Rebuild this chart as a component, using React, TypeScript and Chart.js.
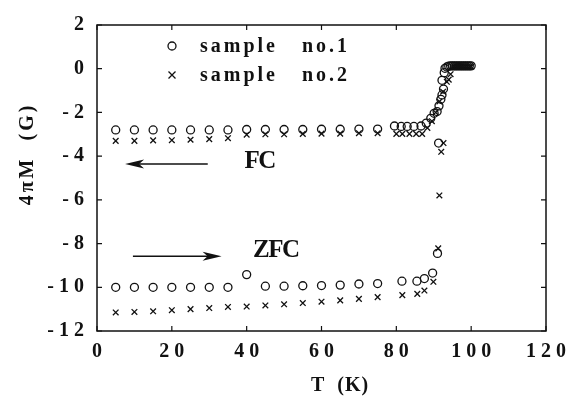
import React, { useEffect, useRef } from 'react';
import { Chart, registerables } from 'chart.js';

Chart.register(...registerables);

// ---- text ----
const seriesNames = ['sample   no.1', 'sample   no.2'];
const xTickValues = [0, 20, 40, 60, 80, 100, 120];
const xTickLabels = ['0', '2 0', '4 0', '6 0', '8 0', '1 0 0', '1 2 0'];
const yTickValues = [2, 0, -2, -4, -6, -8, -10, -12];
const yTickLabels = ['2', '0', '- 2', '- 4', '- 6', '- 8', '- 1 0', '- 1 2'];
const xTitle = 'T  (K)';
const yTitle = '4πM  (G)';
const fcLabel = 'FC';
const zfcLabel = 'ZFC';

// ---- sample no.1 (circles) ----
const s1FcT = [5, 10, 15, 20, 25, 30, 35, 40, 45, 50, 55, 60, 65, 70, 75,
  79.5, 81.3, 82.9, 84.7, 86.6, 88, 89.2, 90.1, 90.9, 91.4, 91.9, 92.2, 92.6, 92.2, 92.8,
  93, 93.5, 94, 94.5, 95, 95.5, 96, 96.5, 97, 97.5, 98, 98.5, 99, 99.5, 100];
const s1FcM = [-2.8, -2.8, -2.8, -2.8, -2.8, -2.8, -2.8, -2.78, -2.78, -2.78, -2.78, -2.77, -2.77, -2.76, -2.76,
  -2.62, -2.64, -2.64, -2.64, -2.62, -2.49, -2.27, -2.04, -1.96, -1.7, -1.4, -1.2, -0.93, -0.53, -0.18,
  0.02, 0.08, 0.12, 0.13, 0.13, 0.13, 0.13, 0.13, 0.13, 0.13, 0.13, 0.13, 0.13, 0.13, 0.13];
const s1ZfcT = [5, 10, 15, 20, 25, 30, 35, 40, 45, 50, 55, 60, 65, 70, 75,
  81.5, 85.5, 87.5, 89.7, 91, 91.3];
const s1ZfcM = [-10, -10, -10, -10, -10, -10, -10, -9.42, -9.95, -9.95, -9.93, -9.92, -9.9, -9.85, -9.83,
  -9.72, -9.72, -9.6, -9.35, -8.45, -3.4];

// ---- sample no.2 (crosses) ----
const s2FcT = [5, 10, 15, 20, 25, 30, 35, 40, 45, 50, 55, 60, 65, 70, 75,
  80, 81.6, 83.5, 85.3, 86.9, 88.3, 89.5, 90.5, 91.5, 92.5, 93.5, 94, 94.5,
  95, 95.5, 96, 96.5, 97, 97.5, 98, 98.5, 99, 99.5, 100];
const s2FcM = [-3.3, -3.3, -3.28, -3.27, -3.25, -3.22, -3.18, -3.02, -3.0, -3.0, -2.98, -2.97, -2.97, -2.95, -2.95,
  -2.98, -2.98, -2.98, -2.98, -2.98, -2.71, -2.4, -2.0, -1.5, -1.05, -0.6, -0.5, -0.25,
  0.08, 0.1, 0.1, 0.1, 0.1, 0.1, 0.1, 0.1, 0.1, 0.1, 0.1];
const s2ZfcT = [5, 10, 15, 20, 25, 30, 35, 40, 45, 50, 55, 60, 65, 70, 75,
  81.6, 85.6, 87.5, 89.9, 91.2, 91.5, 92, 92.6];
const s2ZfcM = [-11.15, -11.13, -11.1, -11.05, -11.0, -10.95, -10.9, -10.88, -10.83, -10.78, -10.72, -10.66, -10.6, -10.53, -10.45,
  -10.36, -10.3, -10.15, -9.75, -8.22, -5.8, -3.8, -3.4];

const toPoints = (ts: number[], ms: number[]) => ts.map((t, i) => ({ x: t, y: ms[i] }));

const INK = '#111';
const SERIF = "'Liberation Serif', 'Times New Roman', serif";

const decorPlugin = {
  id: 'decor',
  afterDraw(chart: any) {
    const { ctx, chartArea: a, scales } = chart;
    const x = scales.x;
    const y = scales.y;
    ctx.save();
    // frame
    ctx.strokeStyle = INK;
    ctx.lineWidth = 1.5;
    ctx.strokeRect(a.left, a.top, a.right - a.left, a.bottom - a.top);
    // inward ticks
    ctx.lineWidth = 1.2;
    const tl = 5;
    ctx.beginPath();
    xTickValues.forEach((v) => {
      const px = x.getPixelForValue(v);
      ctx.moveTo(px, a.bottom); ctx.lineTo(px, a.bottom - tl);
      ctx.moveTo(px, a.top); ctx.lineTo(px, a.top + tl);
    });
    yTickValues.forEach((v) => {
      const py = y.getPixelForValue(v);
      ctx.moveTo(a.left, py); ctx.lineTo(a.left + tl, py);
      ctx.moveTo(a.right, py); ctx.lineTo(a.right - tl, py);
    });
    ctx.stroke();

    // axis titles
    ctx.fillStyle = INK;
    ctx.font = `bold 20px ${SERIF}`;
    ctx.textAlign = 'center';
    ctx.textBaseline = 'middle';
    (ctx as any).letterSpacing = '1px';
    ctx.fillText(xTitle, 340, 386);
    ctx.save();
    ctx.translate(28, 154);
    ctx.rotate(-Math.PI / 2);
    (ctx as any).letterSpacing = '3px';
    ctx.fillText(yTitle, 0, 0);
    ctx.restore();

    // legend
    const lx = 172;
    const rows = [46, 75];
    ctx.lineWidth = 1.3;
    ctx.strokeStyle = INK;
    ctx.beginPath();
    ctx.arc(lx, rows[0], 4, 0, Math.PI * 2);
    ctx.stroke();
    const r = 3.5;
    ctx.beginPath();
    ctx.moveTo(lx - r, rows[1] - r); ctx.lineTo(lx + r, rows[1] + r);
    ctx.moveTo(lx + r, rows[1] - r); ctx.lineTo(lx - r, rows[1] + r);
    ctx.stroke();
    ctx.textAlign = 'left';
    ctx.textBaseline = 'middle';
    ctx.font = `bold 20px ${SERIF}`;
    (ctx as any).letterSpacing = '3px';
    seriesNames.forEach((n, i) => ctx.fillText(n, 200, rows[i] + 1));

    // arrows and FC / ZFC labels (placed in data coordinates)
    const arrow = (x0: number, x1: number, yy: number) => {
      const p0 = x.getPixelForValue(x0);
      const p1 = x.getPixelForValue(x1);
      const py = y.getPixelForValue(yy);
      const dir = Math.sign(p1 - p0);
      ctx.lineWidth = 1.3;
      ctx.beginPath();
      ctx.moveTo(p0, py); ctx.lineTo(p1 - dir * 10, py);
      ctx.stroke();
      ctx.beginPath();
      ctx.moveTo(p1, py);
      ctx.lineTo(p1 - dir * 19, py - 4.5);
      ctx.lineTo(p1 - dir * 14, py);
      ctx.lineTo(p1 - dir * 19, py + 4.5);
      ctx.closePath();
      ctx.fill();
    };
    arrow(29.6, 7.5, -4.36);
    arrow(9.6, 33.3, -8.58);
    ctx.font = `bold 25px ${SERIF}`;
    (ctx as any).letterSpacing = '-1.5px';
    ctx.textAlign = 'center';
    ctx.fillText(fcLabel, x.getPixelForValue(43.5), y.getPixelForValue(-4.27));
    ctx.fillText(zfcLabel, x.getPixelForValue(47.8), y.getPixelForValue(-8.3));
    ctx.restore();
  },
};

export default function App() {
  const ref = useRef<HTMLCanvasElement>(null);
  useEffect(() => {
    document.body.style.margin = '0';
    const canvas = ref.current!;
    const tickFont = { family: SERIF, weight: 'bold' as const, size: 20 };
    const chart = new Chart(canvas, {
      type: 'scatter',
      data: {
        datasets: [
          {
            label: seriesNames[0],
            data: [...toPoints(s1FcT, s1FcM), ...toPoints(s1ZfcT, s1ZfcM)],
            pointStyle: 'circle',
            pointRadius: 4,
            pointBorderWidth: 1.3,
            borderColor: INK,
            backgroundColor: 'rgba(0,0,0,0)',
          },
          {
            label: seriesNames[1],
            data: [...toPoints(s2FcT, s2FcM), ...toPoints(s2ZfcT, s2ZfcM)],
            pointStyle: 'crossRot',
            pointRadius: 4,
            pointBorderWidth: 1.3,
            borderColor: INK,
            backgroundColor: INK,
          },
        ],
      },
      options: {
        responsive: false,
        animation: false,
        layout: { padding: { left: 0, top: 16, right: 28, bottom: 0 } },
        plugins: { legend: { display: false }, tooltip: { enabled: false } },
        scales: {
          x: {
            type: 'linear',
            min: 0,
            max: 120,
            grid: { display: false, drawTicks: false },
            border: { display: false },
            afterFit: (s: any) => { s.height = 75; },
            afterBuildTicks: (s: any) => { s.ticks = xTickValues.map((v) => ({ value: v })); },
            ticks: {
              autoSkip: false,
              maxRotation: 0,
              padding: 9,
              color: INK,
              font: tickFont,
              callback: (v: any) => xTickLabels[xTickValues.indexOf(Number(v))] ?? '',
            },
          },
          y: {
            type: 'linear',
            min: -12,
            max: 2,
            grid: { display: false, drawTicks: false },
            border: { display: false },
            afterFit: (s: any) => { s.width = 97; },
            afterBuildTicks: (s: any) => { s.ticks = yTickValues.map((v) => ({ value: v })); },
            ticks: {
              autoSkip: false,
              padding: 13,
              color: INK,
              font: tickFont,
              callback: (v: any) => yTickLabels[yTickValues.indexOf(Number(v))] ?? '',
            },
          },
        },
      },
      plugins: [decorPlugin],
    });
    return () => chart.destroy();
  }, []);
  return (
    <div style={{ width: 575, height: 406, background: '#fff' }}>
      <canvas ref={ref} width={575} height={406} style={{ display: 'block' }} />
    </div>
  );
}
